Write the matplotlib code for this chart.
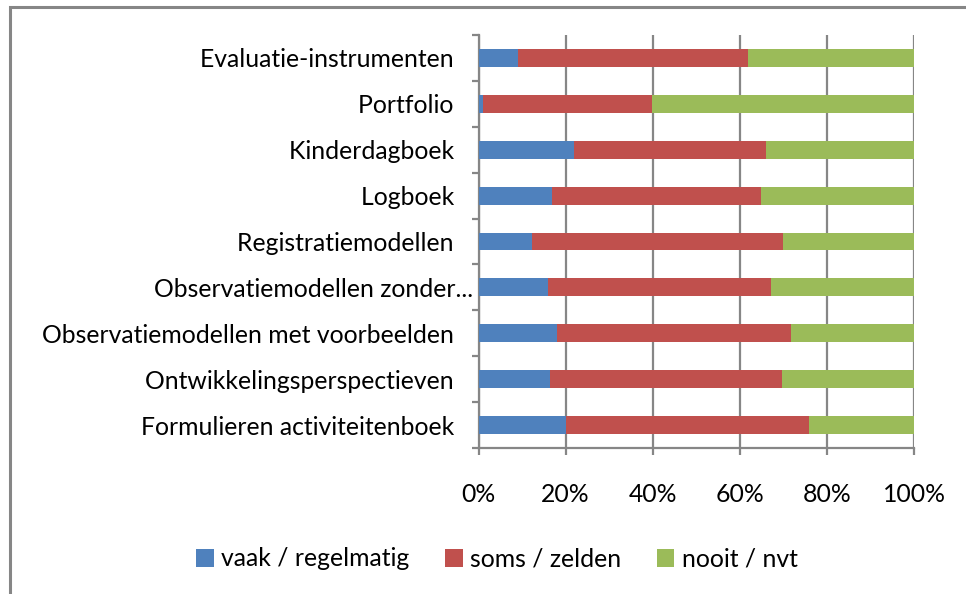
import matplotlib
matplotlib.use("Agg")
import matplotlib.pyplot as plt
from matplotlib.patches import Rectangle
import numpy as np

categories = [
    "Evaluatie-instrumenten",
    "Portfolio",
    "Kinderdagboek",
    "Logboek",
    "Registratiemodellen",
    "Observatiemodellen zonder...",
    "Observatiemodellen met voorbeelden",
    "Ontwikkelingsperspectieven",
    "Formulieren activiteitenboek",
]
vaak = [9.0, 1.1, 21.9, 16.9, 12.3, 16.0, 18.1, 16.4, 20.1]
soms = [52.9, 38.7, 44.1, 47.9, 57.6, 51.1, 53.6, 53.2, 55.7]
nooit = [38.1, 60.2, 34.0, 35.2, 30.1, 32.9, 28.3, 30.4, 24.2]
series_names = ["vaak / regelmatig", "soms / zelden", "nooit / nvt"]
colors = ["#4F81BD", "#C0504D", "#9BBB59"]
xticks = [0, 20, 40, 60, 80, 100]
xticklabels = ["0%", "20%", "40%", "60%", "80%", "100%"]

W, H = 966, 594
fig = plt.figure(figsize=(W / 100, H / 100), dpi=100)
plt.rcParams['font.family'] = ['Lato', 'DejaVu Sans']
FS = 17.8

# outer chart border (left and top visible)
fig.patches.append(Rectangle((10 / W, -0.1), 1.2, (1 - 7 / H) + 0.1,
                             transform=fig.transFigure, fill=False,
                             edgecolor="#868686", linewidth=2.2, zorder=0))

left, right, top, bottom = 478.5, 914, 35, 448
ax = fig.add_axes([left / W, 1 - bottom / H, (right - left) / W, (bottom - top) / H])

y = np.arange(len(categories))
data = [vaak, soms, nooit]
lefts = np.zeros(len(categories))
handles = []
for vals, c, name in zip(data, colors, series_names):
    b = ax.barh(y, vals, left=lefts, height=0.39, color=c, label=name, zorder=3)
    handles.append(b)
    lefts = lefts + np.array(vals)

ax.set_xlim(0, 100)
ax.set_ylim(len(categories) - 0.5, -0.5)

ax.set_xticks(xticks)
ax.set_xticklabels(xticklabels, fontsize=FS)
ax.xaxis.grid(True, color="#868686", linewidth=1.6, zorder=0)
ax.set_axisbelow(True)

labels = [c if c.endswith("...") else c + "   " for c in categories]
ax.set_yticks(y)
ax.set_yticklabels(labels, fontsize=FS)
ax.set_yticks(np.arange(-0.5, len(categories)), minor=True)
ax.tick_params(axis="y", which="major", length=0, pad=4)
ax.tick_params(axis="y", which="minor", length=5, width=1.6, color="#868686")
ax.tick_params(axis="x", which="major", length=5, width=1.6, color="#868686", pad=20)

for s in ["top", "right"]:
    ax.spines[s].set_visible(False)
for s in ["left", "bottom"]:
    ax.spines[s].set_color("#868686")
    ax.spines[s].set_linewidth(1.6)

fig.legend(handles=handles, labels=series_names, loc="center",
           bbox_to_anchor=(497 / W, 1 - 559 / H), ncol=3, frameon=False,
           fontsize=FS, handlelength=0.7, handleheight=0.7, handletextpad=0.3,
           columnspacing=1.45)

fig.savefig("out.png", dpi=100)
